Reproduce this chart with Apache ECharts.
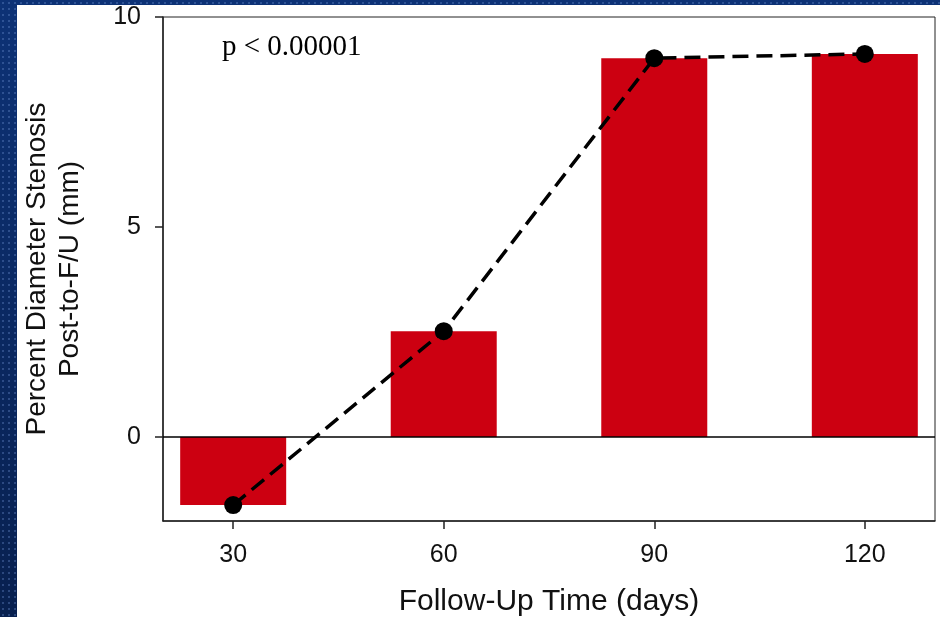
<!DOCTYPE html>
<html>
<head>
<meta charset="utf-8">
<script src="https://cdn.jsdelivr.net/npm/echarts@6/dist/echarts.min.js"></script>
<style>
  html, body { margin: 0; padding: 0; }
  body {
    width: 940px; height: 617px; position: relative; overflow: hidden;
    background-color: #0a2766;
    background-image:
      radial-gradient(circle, rgba(110,145,210,0.35) 0.8px, transparent 1.3px),
      linear-gradient(to bottom, #0d3276, #08204f);
    background-size: 6px 6px, 100% 100%;
  }
  #panel { position: absolute; left: 17px; top: 5px; right: 0; bottom: 0; background: #fff; }
  #chart { position: absolute; left: 0; top: 0; width: 940px; height: 617px; }
</style>
</head>
<body>
<div id="panel"></div>
<div id="chart"></div>
<script>
// data
const followUpDays = [30, 60, 90, 120]
const stenosisChange = [-1.62, 2.52, 9.02, 9.12]
const xTickValues = [30, 60, 90, 120]
const yTickValues = [0, 5, 10]

const points = followUpDays.map((d, i) => [d, stenosisChange[i]])
const axisColor = '#222'

const chart = echarts.init(document.getElementById('chart'))

chart.setOption({
  backgroundColor: 'transparent',
  animation: false,
  title: {
    text: 'p < 0.00001',
    left: 222,
    top: 33,
    padding: 0,
    textStyle: {
      color: '#000',
      fontFamily: 'Liberation Serif',
      fontWeight: 'normal',
      fontSize: 29
    }
  },
  grid: {
    left: 163,
    right: 5,
    top: 17,
    bottom: 96,
    show: true,
    borderColor: axisColor,
    borderWidth: 1,
    outerBoundsMode: 'none'
  },
  xAxis: {
    type: 'value',
    min: 20,
    max: 130,
    name: 'Follow-Up Time (days)',
    nameLocation: 'middle',
    nameGap: 66,
    nameTextStyle: {
      color: '#111',
      fontFamily: 'Liberation Sans',
      fontSize: 30
    },
    axisLine: { onZero: false, lineStyle: { color: axisColor, width: 1.5 } },
    axisTick: { customValues: xTickValues, length: 8, lineStyle: { color: axisColor, width: 1.5 } },
    axisLabel: {
      customValues: xTickValues,
      margin: 22,
      color: '#111',
      fontFamily: 'Liberation Sans',
      fontSize: 25
    },
    splitLine: { show: false }
  },
  yAxis: {
    type: 'value',
    min: -2,
    max: 10,
    name: 'Percent Diameter Stenosis\nPost-to-F/U (mm)',
    nameLocation: 'middle',
    nameRotate: 90,
    nameGap: 76,
    nameTextStyle: {
      color: '#111',
      fontFamily: 'Liberation Sans',
      fontSize: 28,
      lineHeight: 33
    },
    axisLine: { show: true, lineStyle: { color: axisColor, width: 1.5 } },
    axisTick: { show: true, customValues: yTickValues, length: 8, lineStyle: { color: axisColor, width: 1.5 } },
    axisLabel: {
      customValues: yTickValues,
      margin: 22,
      color: '#111',
      fontFamily: 'Liberation Sans',
      fontSize: 25
    },
    splitLine: { show: false }
  },
  series: [
    {
      name: 'Change',
      type: 'bar',
      barWidth: 106,
      itemStyle: { color: '#cc0011' },
      data: points,
      markLine: {
        silent: true,
        symbol: 'none',
        label: { show: false },
        lineStyle: { color: '#000', type: 'solid', width: 1.5 },
        data: [{ yAxis: 0 }]
      }
    },
    {
      name: 'Trend',
      type: 'line',
      z: 5,
      symbol: 'circle',
      symbolSize: 18,
      itemStyle: { color: '#000' },
      lineStyle: { color: '#000', width: 3.5, type: [16, 8] },
      data: points
    }
  ]
})
</script>
</body>
</html>
